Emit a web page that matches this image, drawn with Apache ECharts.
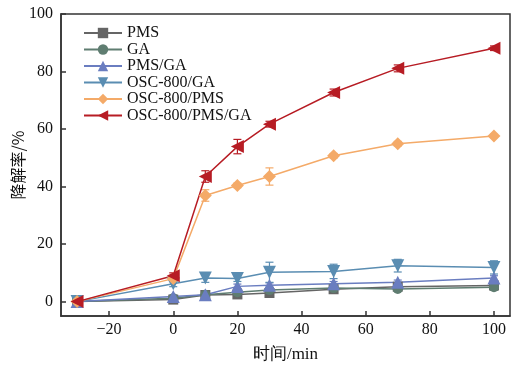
<!DOCTYPE html>
<html>
<head>
<meta charset="utf-8">
<script src="https://cdn.jsdelivr.net/npm/echarts@6/dist/echarts.min.js"></script>
<style>
  html, body { margin: 0; padding: 0; background: #fff; }
  #chart { width: 512px; height: 365px; }
</style>
</head>
<body>
<div id="chart"></div>
<script>
// time points (min)
const times = [-30, 0, 10, 20, 30, 50, 70, 100]
const xTicks = [-20, 0, 20, 40, 60, 80, 100]
const yTicks = [0, 20, 40, 60, 80, 100]

// degradation rate (%) and error half-widths per series
const pms = [0, 0.7, 2.3, 2.5, 3.0, 4.3, 5.2, 5.6]
const pmsErr = [0, 0.5, 0.5, 0.8, 0.6, 0.6, 0.6, 0.8]
const ga = [0, 1.2, 2.4, 3.3, 4.0, 4.7, 4.4, 5.0]
const gaErr = [0, 0.5, 0.5, 1.2, 0.6, 0.6, 0.8, 1.0]
const pmsGa = [0, 1.8, 2.4, 5.3, 5.7, 6.2, 6.7, 8.2]
const pmsGaErr = [0, 0.5, 0.6, 0.8, 0.8, 0.8, 0.8, 0.8]
const oscGa = [0, 6.2, 8.2, 8.0, 10.2, 10.5, 12.5, 11.9]
const oscGaErr = [0, 1.0, 1.5, 1.0, 3.5, 2.5, 2.2, 2.3]
const oscPms = [0, 8.0, 36.9, 40.4, 43.5, 50.7, 54.9, 57.6]
const oscPmsErr = [0, 0.8, 2.0, 0.8, 3.0, 0.8, 0.8, 0.6]
const oscPmsGa = [0, 9.0, 43.5, 53.9, 61.7, 72.7, 81.1, 88.1]
const oscPmsGaErr = [0, 1.0, 2.0, 2.5, 1.0, 1.2, 1.2, 0.8]

const seriesDefs = [
  { name: 'PMS', data: pms, err: pmsErr, color: '#656565', symbol: 'rect', rotate: 0 },
  { name: 'GA', data: ga, err: gaErr, color: '#5f7d71', symbol: 'circle', rotate: 0 },
  { name: 'PMS/GA', data: pmsGa, err: pmsGaErr, color: '#6a7dc0', symbol: 'triangle', rotate: 0 },
  { name: 'OSC-800/GA', data: oscGa, err: oscGaErr, color: '#5a8db2', symbol: 'triangle', rotate: 180 },
  { name: 'OSC-800/PMS', data: oscPms, err: oscPmsErr, color: '#f4aa68', symbol: 'diamond', rotate: 0 },
  { name: 'OSC-800/PMS/GA', data: oscPmsGa, err: oscPmsGaErr, color: '#b71c24', symbol: 'triangle', rotate: 90 },
]

const font = '"Liberation Serif", "Times New Roman", serif'
const cjk = '"Noto Sans CJK SC", sans-serif'

const series = []
seriesDefs.forEach(def => {
  series.push({
    name: def.name,
    type: 'line',
    z: 3,
    data: times.map((t, i) => [t, def.data[i]]),
    symbol: def.symbol,
    symbolRotate: def.rotate,
    symbolSize: def.symbol === 'rect' || def.symbol === 'circle' ? 10 : 13,
    showAllSymbol: true,
    lineStyle: { color: def.color, width: 1.5 },
    itemStyle: { color: def.color },
  })
  series.push({
    name: def.name + ' err',
    type: 'custom',
    silent: true,
    z: 2,
    data: times.map((t, i) => [t, def.data[i] - def.err[i], def.data[i] + def.err[i]]),
    renderItem: (params, api) => {
      if (api.value(2) - api.value(1) < 0.01) return null
      const lo = api.coord([api.value(0), api.value(1)])
      const hi = api.coord([api.value(0), api.value(2)])
      const w = 4
      const style = { stroke: def.color, lineWidth: 1.2 }
      return {
        type: 'group',
        children: [
          { type: 'line', shape: { x1: lo[0], y1: lo[1], x2: hi[0], y2: hi[1] }, style },
          { type: 'line', shape: { x1: lo[0] - w, y1: lo[1], x2: lo[0] + w, y2: lo[1] }, style },
          { type: 'line', shape: { x1: hi[0] - w, y1: hi[1], x2: hi[0] + w, y2: hi[1] }, style },
        ],
      }
    },
  })
})

const chart = echarts.init(document.getElementById('chart'), null, { renderer: 'canvas' })
chart.setOption({
  animation: false,
  backgroundColor: '#fff',
  grid: {
    left: 61,
    right: 2,
    top: 14,
    bottom: 49,
    outerBoundsMode: 'none',
    containLabel: false,
    show: true,
    borderColor: '#333',
    borderWidth: 1.5,
  },
  legend: {
    data: seriesDefs.map(d => d.name),
    orient: 'vertical',
    left: 78,
    top: 20,
    itemWidth: 38,
    itemHeight: 13,
    itemGap: 0.5,
    textStyle: { fontFamily: font, fontSize: 16, lineHeight: 15, color: '#111', padding: [0, 0, 0, 0] },
  },
  xAxis: {
    type: 'value',
    min: -35,
    max: 105,
    name: '时间/min',
    nameLocation: 'middle',
    nameGap: 30,
    nameMoveOverlap: false,
    nameTextStyle: { fontFamily: font, fontSize: 17, color: '#111' },
    axisLine: { show: true, onZero: false, lineStyle: { color: '#333', width: 1.5 } },
    axisTick: { inside: true, length: 5, customValues: xTicks, lineStyle: { color: '#333', width: 1.5 } },
    axisLabel: {
      customValues: xTicks,
      fontFamily: font,
      fontSize: 16,
      color: '#111',
      margin: 6,
      formatter: v => (v < 0 ? '\u2212' + Math.abs(v) : String(v)),
    },
    splitLine: { show: false },
  },
  yAxis: {
    type: 'value',
    min: -5,
    max: 100,
    name: '降解率/%',
    nameLocation: 'middle',
    nameGap: 35,
    nameMoveOverlap: false,
    nameTextStyle: { fontFamily: cjk, fontSize: 16, color: '#111' },
    axisLine: { show: true, onZero: false, lineStyle: { color: '#333', width: 1.5 } },
    axisTick: { inside: true, length: 5, customValues: yTicks, lineStyle: { color: '#333', width: 1.5 } },
    axisLabel: {
      customValues: yTicks,
      fontFamily: font,
      fontSize: 16,
      color: '#111',
      margin: 8,
    },
    splitLine: { show: false },
  },
  series,
})
</script>
</body>
</html>
